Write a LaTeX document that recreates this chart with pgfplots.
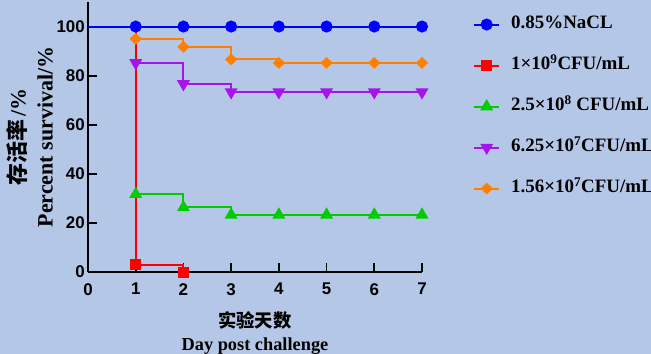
\documentclass[border=0pt]{standalone}
\usepackage{pgfplots}
\pgfplotsset{compat=1.18}
\usepackage{fontspec}
\setmainfont{Liberation Serif}
\newfontfamily\cjk{Noto Sans CJK SC}
\newfontfamily\arialf{Liberation Sans}
\definecolor{bg}{RGB}{180,199,231}
\definecolor{cblue}{RGB}{0,0,255}
\definecolor{cred}{RGB}{255,0,0}
\definecolor{cgreen}{RGB}{0,204,0}
\definecolor{cpurple}{RGB}{165,20,235}
\definecolor{corange}{RGB}{255,128,0}
\begin{document}
\begin{tikzpicture}
\fill[bg] (-88bp,-82bp) rectangle (563bp,272bp);
\path[use as bounding box] (-88bp,-82bp) rectangle (563bp,272bp);
\begin{axis}[
  scale only axis, width=334bp, height=270bp,
  xmin=0, xmax=7, ymin=0, ymax=110,
  axis x line=bottom, axis y line=left,
  axis line style={-, line width=1.8bp, black},
  tick align=inside, major tick length=9bp,
  tick style={line width=1.8bp, black},
  xtick={0,1,2,3,4,5,6,7}, ytick={0,20,40,60,80,100},
  /pgf/number format/assume math mode=true,
  ticklabel style={font=\arialf\bfseries\fontsize{17}{20}\selectfont},
  xticklabel style={inner sep=0pt, yshift=-11bp},
  yticklabel style={inner sep=0pt, xshift=-3bp},
  clip=false,
  xlabel={{\cjk 实验天数}\\Day post challenge},
  xlabel style={at={(axis description cs:0.5,0)}, anchor=north, yshift=-39bp, inner sep=0pt, align=center, font=\bfseries\fontsize{18.4}{23.5}\selectfont},
  ylabel={{\cjk 存活率}\,/\%\\Percent survival/\%},
  ylabel style={at={(axis description cs:-0.1048,0.5)}, anchor=south, inner sep=0pt, align=center, font=\bfseries\fontsize{22}{27}\selectfont},
  legend style={at={(1.1527,0.947)}, anchor=north west, draw=none, fill=none, inner sep=0pt,
    row sep=25bp, column sep=11bp,
    nodes={inner sep=0pt, text height=12bp, text depth=4bp, font=\bfseries\fontsize{19}{22}\selectfont}},
  legend cell align=left,
  legend image code/.code={\draw[mark repeat=2,mark phase=2] plot coordinates {(0bp,0bp)(12.5bp,0bp)(25bp,0bp)};},
]
\addlegendimage{cblue, line width=2bp, mark=*, mark size=5bp, mark options={solid}}
\addlegendentry{0.85\%NaCL}
\addlegendimage{cred, line width=2bp, mark=square*, mark size=4.5bp}
\addlegendentry{1×10\textsuperscript{9}CFU/mL}
\addlegendimage{cgreen, line width=2bp, mark=triangle*, mark size=5.5bp}
\addlegendentry{2.5×10\textsuperscript{8} CFU/mL}
\addlegendimage{cpurple, line width=2bp, mark=triangle*, mark size=5.5bp, mark options={rotate=180}}
\addlegendentry{6.25×10\textsuperscript{7}CFU/mL}
\addlegendimage{corange, line width=2bp, mark=diamond*, mark size=4.5bp, mark options={xscale=1.4}}
\addlegendentry{1.56×10\textsuperscript{7}CFU/mL}

\addplot[forget plot, const plot, cgreen, line width=2bp, mark=triangle*, mark size=5.5bp, mark indices={2,3,4,5,6,7,8}]
  coordinates {(0,100)(1,31.7)(2,26.3)(3,23.3)(4,23.3)(5,23.3)(6,23.3)(7,23.3)};
\addplot[forget plot, const plot, cpurple, line width=2bp, mark=triangle*, mark size=5.5bp, mark options={rotate=180}, mark indices={2,3,4,5,6,7,8}]
  coordinates {(0,100)(1,85.2)(2,76.6)(3,73.3)(4,73.3)(5,73.3)(6,73.3)(7,73.3)};
\addplot[forget plot, const plot, corange, line width=2bp, mark=diamond*, mark size=4.5bp, mark options={xscale=1.4}, mark indices={2,3,4,5,6,7,8}]
  coordinates {(0,100)(1,95)(2,91.7)(3,86.6)(4,85.2)(5,85.2)(6,85.2)(7,85.2)};
\addplot[forget plot, const plot, cred, line width=2bp, mark=square*, mark size=4.5bp, mark indices={2,3}]
  coordinates {(0,100)(1,3)(2,0)};
\addplot[forget plot, const plot, cblue, line width=2bp, mark=*, mark size=5bp, mark indices={2,3,4,5,6,7,8}]
  coordinates {(0,100)(1,100)(2,100)(3,100)(4,100)(5,100)(6,100)(7,100)};
\end{axis}
\end{tikzpicture}
\end{document}
